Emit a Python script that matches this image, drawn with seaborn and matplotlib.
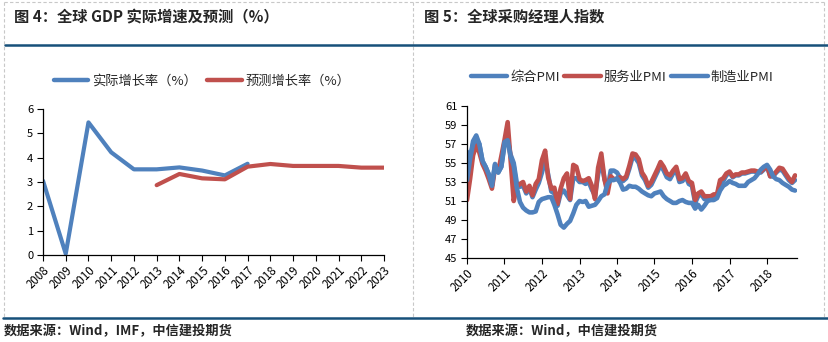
import numpy as np
import pandas as pd
import matplotlib
matplotlib.use("Agg")
import matplotlib.pyplot as plt
from matplotlib.lines import Line2D
import seaborn as sns

sns.set_theme(style="ticks")
plt.rcParams['font.family'] = ['Noto Sans CJK SC', 'DejaVu Sans']
plt.rcParams['axes.unicode_minus'] = False

BLUE = "#4F81BD"
RED = "#C0504D"

# ---------------- data: Fig 4 (global GDP growth) ----------------
gdp_years = list(range(2008, 2024))
gdp_actual = [3.05, 0.05, 5.45, 4.22, 3.52, 3.52, 3.60, 3.47, 3.27, 3.75,
              None, None, None, None, None, None]
gdp_forecast = [None, None, None, None, None, 2.87, 3.33, 3.15, 3.11, 3.63,
                3.74, 3.66, 3.66, 3.66, 3.59, 3.59]
gdp_labels = ["实际增长率（%）", "预测增长率（%）"]

# ---------------- data: Fig 5 (global PMI, monthly Jan-2010 .. Oct-2018) ----------------
pmi_start = "2010-01-01"
pmi_composite = [
    56.2, 55.5, 57.3, 57.9, 57.0, 55.2, 54.6, 53.8, 52.6, 54.9, 54.0, 54.6,
    56.8, 57.5, 55.9, 55.0, 52.9, 52.5, 52.6, 51.8, 52.3, 51.4, 52.2, 52.9,
    54.0, 55.3, 53.8, 52.0, 51.8, 50.5, 51.8, 52.1, 51.6, 51.1, 53.4, 53.4,
    53.0, 53.0, 52.8, 53.0, 52.2, 51.6, 53.8, 55.2, 53.3, 52.3, 54.2, 54.2,
    54.0, 53.4, 53.1, 53.4, 54.4, 55.6, 55.5, 55.0, 53.7, 53.2, 52.4, 52.7,
    53.4, 54.1, 54.8, 54.2, 53.5, 53.3, 53.9, 54.2, 53.0, 53.1, 53.6, 52.8,
    52.6, 50.8, 51.5, 51.7, 51.2, 51.2, 51.3, 51.5, 51.5, 52.9, 53.1, 53.7,
    54.0, 53.5, 53.7, 53.7, 53.9, 53.9, 54.0, 54.1, 54.1, 54.0, 54.0, 54.3,
    54.7, 53.6, 53.6, 54.0, 54.3, 54.2, 53.7, 53.2, 52.9, 53.2]
pmi_services = [
    51.1, 53.4, 55.8, 56.9, 56.1, 54.9, 54.2, 53.3, 52.3, 54.5, 54.1, 55.7,
    57.4, 59.3, 55.4, 51.0, 52.5, 52.8, 53.0, 52.0, 52.6, 51.6, 52.8, 53.3,
    55.3, 56.3, 53.5, 52.3, 52.4, 50.7, 52.3, 53.4, 53.9, 51.2, 54.8, 54.6,
    53.3, 53.1, 53.2, 53.4, 52.6, 51.2, 54.5, 56.0, 53.3, 51.8, 53.6, 53.3,
    53.3, 53.5, 53.3, 53.6, 54.7, 56.0, 55.9, 55.4, 54.0, 53.5, 52.6, 53.0,
    53.7, 54.4, 55.1, 54.6, 53.9, 53.7, 54.2, 54.6, 53.3, 53.4, 53.9, 53.1,
    52.9, 51.1, 51.8, 52.0, 51.5, 51.5, 51.5, 51.7, 51.7, 53.2, 53.4, 53.9,
    54.1, 53.6, 53.8, 53.8, 54.0, 54.0, 54.1, 54.2, 54.2, 54.1, 54.1, 54.4,
    54.7, 53.6, 53.7, 54.1, 54.5, 54.4, 53.9, 53.4, 53.0, 53.7]
pmi_manufacturing = [
    53.2, 55.5, 57.0, 57.6, 57.0, 55.2, 54.6, 53.8, 52.6, 54.8, 54.0, 54.6,
    57.2, 57.4, 55.7, 54.7, 52.4, 50.9, 50.3, 50.0, 49.8, 49.8, 49.9, 50.9,
    51.2, 51.3, 51.4, 51.4, 50.6, 49.6, 48.5, 48.2, 48.6, 48.9, 49.7, 50.6,
    51.0, 50.9, 51.0, 50.4, 50.5, 50.6, 51.0, 51.5, 51.7, 52.8, 53.2, 53.2,
    53.4, 52.9, 52.2, 52.3, 52.6, 52.5, 52.5, 52.3, 52.0, 51.8, 51.6, 51.5,
    51.8, 51.9, 52.0, 51.5, 51.2, 51.0, 50.8, 50.8, 51.0, 51.1, 50.9, 50.8,
    50.8, 50.2, 50.6, 50.1, 50.5, 51.0, 51.1, 51.1, 51.3, 52.1, 52.6, 52.8,
    53.1, 52.9, 52.8, 52.6, 52.6, 52.6, 53.0, 53.2, 53.4, 53.8, 54.3, 54.6,
    54.8, 54.3, 53.6, 53.3, 53.2, 52.9, 52.7, 52.5, 52.2, 52.1]
pmi_labels = ["综合PMI", "服务业PMI", "制造业PMI"]
pmi_year_ticks = list(range(2010, 2019))

title_left = "图 4：全球 GDP 实际增速及预测（%）"
title_right = "图 5：全球采购经理人指数"
source_left = "数据来源：Wind，IMF，中信建投期货"
source_right = "数据来源：Wind，中信建投期货"

# ---------------- figure ----------------
W, H = 829, 342
fig = plt.figure(figsize=(W / 100, H / 100), dpi=100)
fig.patch.set_facecolor("white")


def fx(px):
    return px / W


def fy(py):
    return 1 - py / H


# decorations
grey = "#C8C8C8"
for x in (4, 413, 824):
    fig.add_artist(Line2D([fx(x), fx(x)], [fy(2), fy(317)], color=grey, lw=0.8, ls=(0, (3, 2))))
fig.add_artist(Line2D([fx(4), fx(824)], [fy(2), fy(2)], color=grey, lw=0.8, ls=(0, (3, 2))))
fig.add_artist(Line2D([fx(5), 1.0], [fy(44.5), fy(44.5)], color="#17507A", lw=1.8))
fig.add_artist(Line2D([fx(3), 1.0], [fy(317.5), fy(317.5)], color="#17507A", lw=1.8))

fig.text(fx(14), fy(17), title_left, fontsize=11, fontweight="bold", va="center", ha="left")
fig.text(fx(424), fy(17), title_right, fontsize=11, fontweight="bold", va="center", ha="left")
fig.text(fx(4), fy(331), source_left, fontsize=9.5, fontweight="bold", va="center", ha="left")
fig.text(fx(466), fy(331), source_right, fontsize=9.5, fontweight="bold", va="center", ha="left")

# ---------------- left chart ----------------
ax1 = fig.add_axes([fx(43), fy(255), fx(384) - fx(43), fy(109) - fy(255)])
df_gdp = pd.DataFrame({"year": gdp_years, gdp_labels[0]: gdp_actual, gdp_labels[1]: gdp_forecast})
df_gdp = df_gdp.melt(id_vars="year", var_name="series", value_name="value").dropna()
sns.lineplot(data=df_gdp, x="year", y="value", hue="series", hue_order=gdp_labels,
             palette=[BLUE, RED], lw=3.0, ax=ax1, legend=False,
             solid_capstyle="round", solid_joinstyle="round")
ax1.set_xlim(gdp_years[0], gdp_years[-1])
ax1.set_ylim(0, 6)
ax1.set_yticks(range(0, 7))
ax1.set_xticks(gdp_years)
ax1.set_xticklabels([str(y) for y in gdp_years], rotation=45, ha="right", va="top",
                    rotation_mode="anchor", fontsize=8.3)
ax1.set_xlabel("")
ax1.set_ylabel("")

# ---------------- right chart ----------------
ax2 = fig.add_axes([fx(467), fy(258), fx(797) - fx(467), fy(106) - fy(258)])
dates = pd.date_range(pmi_start, periods=len(pmi_services), freq="MS")
df_pmi = pd.DataFrame({"date": dates, pmi_labels[0]: pmi_composite,
                       pmi_labels[1]: pmi_services, pmi_labels[2]: pmi_manufacturing})
df_pmi = df_pmi.melt(id_vars="date", var_name="series", value_name="value")
sns.lineplot(data=df_pmi, x="date", y="value", hue="series", hue_order=pmi_labels,
             palette=[BLUE, RED, BLUE], lw=3.3, ax=ax2, legend=False,
             solid_capstyle="round", solid_joinstyle="round")
ax2.set_xlim(pd.Timestamp("2010-01-01"), pd.Timestamp("2018-10-20"))
ax2.set_ylim(45, 61)
ax2.set_yticks(range(45, 62, 2))
ax2.set_xticks([pd.Timestamp(f"{y}-01-01") for y in pmi_year_ticks])
ax2.set_xticklabels([str(y) for y in pmi_year_ticks], rotation=45, ha="right", va="top",
                    rotation_mode="anchor", fontsize=8.3)
ax2.set_xlabel("")
ax2.set_ylabel("")

for ax in (ax1, ax2):
    for s in ("top", "right"):
        ax.spines[s].set_visible(False)
    for s in ("left", "bottom"):
        ax.spines[s].set_color("black")
        ax.spines[s].set_linewidth(0.9)
    ax.tick_params(axis="both", direction="out", length=4, width=0.8, colors="black", pad=2)
    ax.tick_params(axis="y", labelsize=8, pad=3)
    ax.set_facecolor("white")
    ax.grid(False)

# legends
h_gdp = [Line2D([], [], color=BLUE, lw=3.2), Line2D([], [], color=RED, lw=3.2)]
ax1.legend(h_gdp, gdp_labels, loc="center", bbox_to_anchor=(fx(202), fy(81)),
           bbox_transform=fig.transFigure, ncol=2, frameon=False, fontsize=9.5,
           handlelength=2.6, handletextpad=0.3, columnspacing=0.8, borderaxespad=0)
h_pmi = [Line2D([], [], color=BLUE, lw=3.2), Line2D([], [], color=RED, lw=3.2),
         Line2D([], [], color=BLUE, lw=3.2)]
ax2.legend(h_pmi, pmi_labels, loc="center", bbox_to_anchor=(fx(622), fy(77)),
           bbox_transform=fig.transFigure, ncol=3, frameon=False, fontsize=9.5,
           handlelength=2.8, handletextpad=0.2, columnspacing=0.35, borderaxespad=0)

fig.savefig("out.png", dpi=100, facecolor="white")
